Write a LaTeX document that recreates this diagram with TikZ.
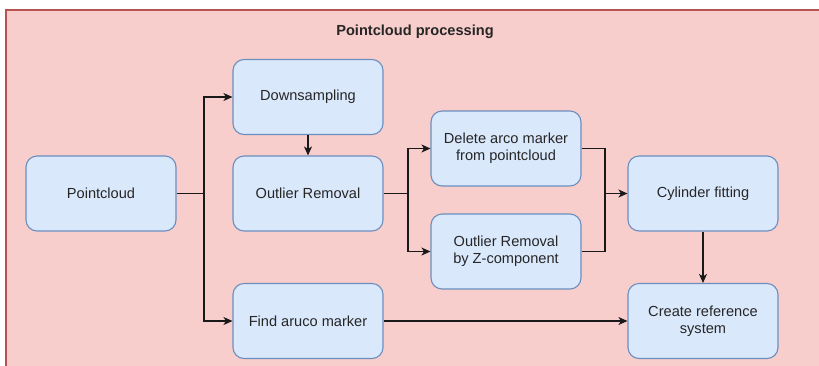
\documentclass[tikz,border=0pt]{standalone}
\usepackage{fontspec}
\setmainfont{Liberation Sans}
\usetikzlibrary{arrows.meta,calc}
\definecolor{bgfill}{HTML}{F8CECC}
\definecolor{bgline}{HTML}{B85450}
\definecolor{nfill}{HTML}{DAE8FC}
\definecolor{nline}{HTML}{6C8EBF}
\begin{document}
\begin{tikzpicture}[x=1pt,y=-1pt,
  box/.style={draw=nline, fill=nfill, line width=1.1pt, rounded corners=11pt,
    minimum width=150pt, minimum height=75pt, align=center, inner sep=2pt,
    text=black!85, font=\fontsize{14.6}{17}\selectfont},
  conn/.style={line width=1.2pt, black!90, -{Stealth[length=9pt,width=8pt,inset=2.5pt]}},
  plain/.style={line width=1.2pt, black!90}]
\useasboundingbox (0,0) rectangle (819,365);
\fill[white] (0,0) rectangle (819,365);
\draw[bgline, fill=bgfill, line width=1.2pt] (6,10) rectangle (840,390);
\node[font=\bfseries\fontsize{14.6}{17}\selectfont, text=black!85] (title) at (415,32) {Pointcloud processing};
\node[box] (pc) at (101,193.5) {Pointcloud};
\node[box] (ds) at (308,97) {Downsampling};
\node[box] (or) at (308,193.5) {Outlier Removal};
\node[box] (fa) at (308,321) {Find aruco marker};
\node[box] (del) at (506,148.5) {Delete arco marker\\from pointcloud};
\node[box] (orz) at (506,251.5) {Outlier Removal\\by Z-component};
\node[box] (cyl) at (703,193.5) {Cylinder fitting};
\node[box] (crs) at (703,321) {Create reference\\system};
\coordinate (j1) at (204,193.5);
\coordinate (j2) at (408,193.5);
\coordinate (j3) at (605,193.5);
\draw[plain] (pc.east) -- (j1);
\draw[conn] (j1) |- (ds.west);
\draw[conn] (j1) |- (fa.west);
\draw[conn] (ds.south) -- (or.north);
\draw[plain] (or.east) -- (j2);
\draw[conn] (j2) |- (del.west);
\draw[conn] (j2) |- (orz.west);
\draw[plain] (del.east) -| (j3);
\draw[plain] (orz.east) -| (j3);
\draw[conn] (j3) -- (cyl.west);
\draw[conn] (cyl.south) -- (crs.north);
\draw[conn] (fa.east) -- (crs.west);
\end{tikzpicture}
\end{document}
